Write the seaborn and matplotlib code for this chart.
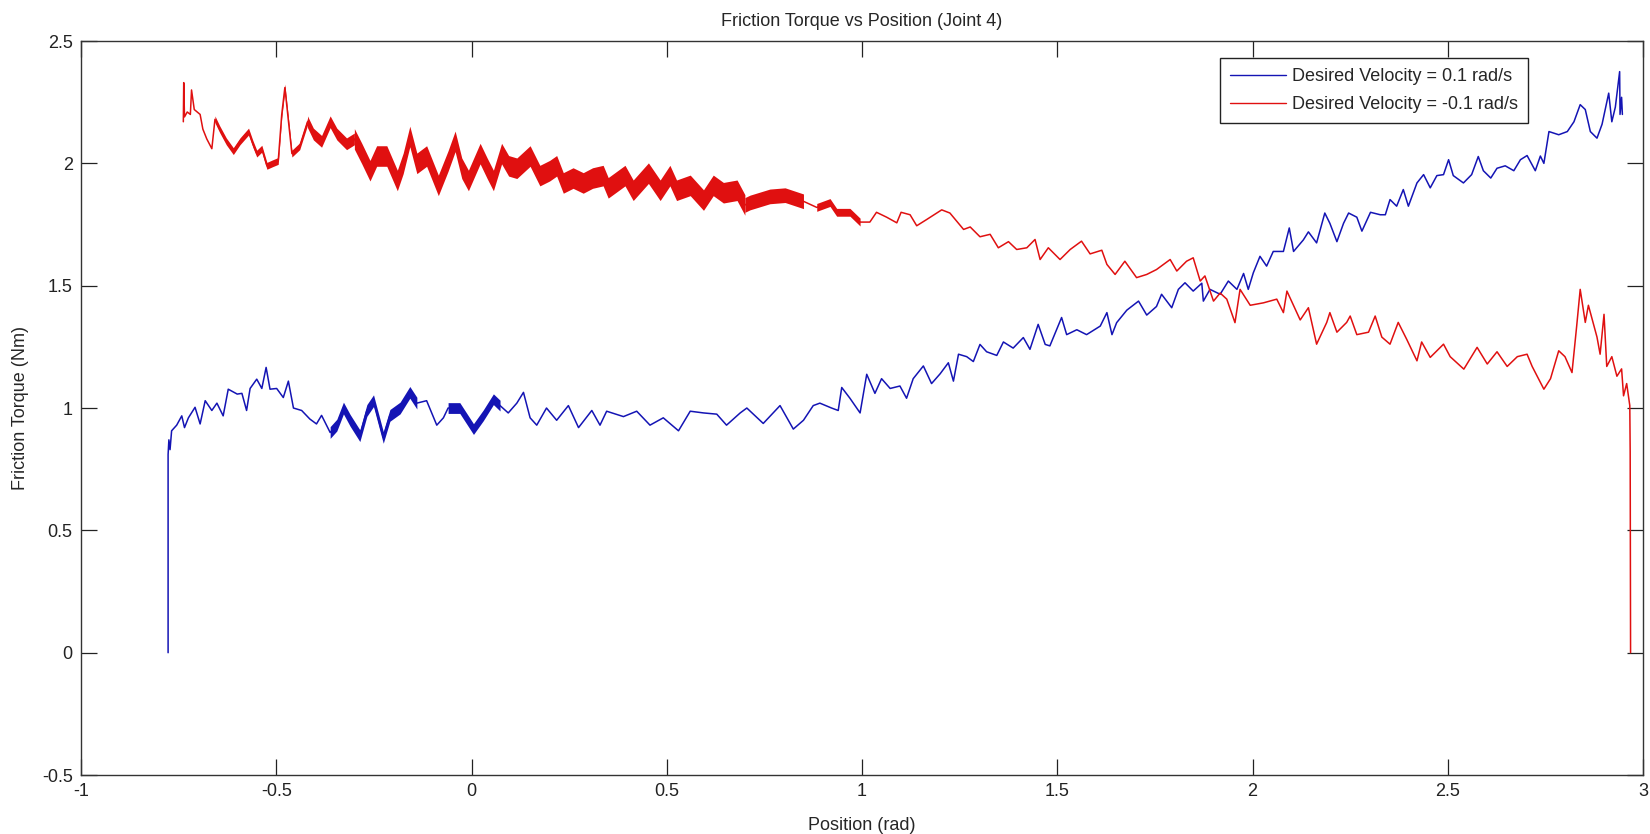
import numpy as np
import pandas as pd
import matplotlib
matplotlib.use("Agg")
import matplotlib.pyplot as plt
import seaborn as sns

# (position rad, friction torque Nm), velocity +0.1 rad/s
trace_up = [
    (-0.777, 0.0), (-0.777, 0.81), (-0.775, 0.87), (-0.772, 0.83), (-0.768, 0.907),
    (-0.755, 0.93), (-0.742, 0.968), (-0.735, 0.92), (-0.725, 0.96), (-0.708, 1.003),
    (-0.695, 0.935), (-0.682, 1.03), (-0.665, 0.99), (-0.652, 1.02), (-0.636, 0.968),
    (-0.623, 1.077), (-0.600, 1.057), (-0.588, 1.06), (-0.576, 0.99), (-0.567, 1.08),
    (-0.550, 1.118), (-0.537, 1.08), (-0.526, 1.166), (-0.516, 1.077), (-0.499, 1.08),
    (-0.482, 1.043), (-0.469, 1.11), (-0.456, 1.00), (-0.435, 0.99), (-0.414, 0.955),
    (-0.397, 0.935), (-0.384, 0.97), (-0.362, 0.90), (-0.345, 0.93), (-0.328, 1.00),
    (-0.311, 0.95), (-0.286, 0.887), (-0.268, 0.99), (-0.251, 1.03), (-0.226, 0.88),
    (-0.209, 0.97), (-0.183, 1.00), (-0.158, 1.064), (-0.140, 1.02), (-0.115, 1.03),
    (-0.089, 0.93), (-0.072, 0.96), (-0.060, 1.00), (-0.030, 1.00), (0.005, 0.914),
    (0.030, 0.97), (0.056, 1.036), (0.073, 1.01), (0.094, 0.98), (0.116, 1.02),
    (0.133, 1.064), (0.150, 0.96), (0.167, 0.93), (0.192, 1.00), (0.218, 0.95),
    (0.248, 1.01), (0.274, 0.92), (0.308, 0.99), (0.329, 0.93), (0.346, 0.987),
    (0.389, 0.965), (0.423, 0.987), (0.457, 0.93), (0.491, 0.96), (0.530, 0.907),
    (0.560, 0.987), (0.594, 0.98), (0.628, 0.975), (0.653, 0.93), (0.688, 0.98),
    (0.705, 1.00), (0.747, 0.937), (0.790, 1.01), (0.824, 0.914), (0.850, 0.95),
    (0.875, 1.01), (0.892, 1.02), (0.922, 1.00), (0.939, 0.99), (0.948, 1.084),
    (0.969, 1.04), (0.995, 0.98), (1.012, 1.138), (1.033, 1.06), (1.050, 1.12),
    (1.072, 1.08), (1.097, 1.09), (1.114, 1.04), (1.131, 1.12), (1.157, 1.172),
    (1.178, 1.10), (1.200, 1.14), (1.221, 1.185), (1.234, 1.11), (1.247, 1.22),
    (1.268, 1.21), (1.285, 1.19), (1.302, 1.26), (1.319, 1.23), (1.345, 1.215),
    (1.362, 1.27), (1.387, 1.245), (1.413, 1.288), (1.430, 1.24), (1.451, 1.342),
    (1.469, 1.26), (1.481, 1.254), (1.511, 1.37), (1.524, 1.30), (1.550, 1.32),
    (1.575, 1.30), (1.610, 1.335), (1.627, 1.39), (1.640, 1.30), (1.652, 1.349),
    (1.678, 1.40), (1.708, 1.437), (1.729, 1.38), (1.754, 1.415), (1.767, 1.465),
    (1.793, 1.41), (1.810, 1.485), (1.827, 1.512), (1.848, 1.478), (1.870, 1.51),
    (1.874, 1.437), (1.891, 1.485), (1.917, 1.465), (1.938, 1.519), (1.960, 1.485),
    (1.977, 1.55), (1.989, 1.485), (2.002, 1.553), (2.019, 1.62), (2.036, 1.58),
    (2.053, 1.64), (2.079, 1.64), (2.094, 1.736), (2.105, 1.64), (2.130, 1.687),
    (2.143, 1.72), (2.164, 1.675), (2.185, 1.797), (2.198, 1.755), (2.216, 1.68),
    (2.233, 1.755), (2.246, 1.797), (2.267, 1.78), (2.280, 1.723), (2.302, 1.80),
    (2.327, 1.79), (2.340, 1.79), (2.352, 1.852), (2.369, 1.825), (2.386, 1.893),
    (2.399, 1.825), (2.421, 1.92), (2.438, 1.954), (2.455, 1.90), (2.472, 1.95),
    (2.489, 1.954), (2.502, 2.015), (2.514, 1.95), (2.540, 1.92), (2.561, 1.954),
    (2.578, 2.028), (2.591, 1.97), (2.610, 1.94), (2.626, 1.98), (2.647, 1.99),
    (2.669, 1.97), (2.686, 2.015), (2.703, 2.032), (2.724, 1.97), (2.737, 2.03),
    (2.746, 2.00), (2.759, 2.13), (2.784, 2.117), (2.806, 2.13), (2.823, 2.17),
    (2.839, 2.24), (2.852, 2.22), (2.865, 2.13), (2.882, 2.103), (2.895, 2.16),
    (2.912, 2.287), (2.920, 2.17), (2.929, 2.23), (2.940, 2.375), (2.941, 2.20),
    (2.945, 2.27), (2.947, 2.20),
]

# velocity -0.1 rad/s
trace_down = [
    (-0.738, 2.17), (-0.737, 2.33), (-0.735, 2.19), (-0.728, 2.21), (-0.720, 2.20),
    (-0.717, 2.30), (-0.710, 2.22), (-0.695, 2.20), (-0.688, 2.14), (-0.678, 2.10),
    (-0.665, 2.06), (-0.657, 2.18), (-0.645, 2.14), (-0.628, 2.09), (-0.610, 2.05),
    (-0.593, 2.09), (-0.571, 2.13), (-0.560, 2.08), (-0.550, 2.04), (-0.537, 2.06),
    (-0.524, 1.99), (-0.510, 2.00), (-0.495, 2.01), (-0.486, 2.20), (-0.478, 2.31),
    (-0.470, 2.19), (-0.460, 2.04), (-0.440, 2.07), (-0.420, 2.17), (-0.405, 2.12),
    (-0.384, 2.09), (-0.362, 2.17), (-0.345, 2.12), (-0.320, 2.08), (-0.300, 2.10),
    (-0.281, 2.04), (-0.260, 1.97), (-0.243, 2.03), (-0.217, 2.03), (-0.190, 1.93),
    (-0.175, 2.00), (-0.158, 2.11), (-0.140, 2.00), (-0.115, 2.03), (-0.085, 1.91),
    (-0.060, 2.01), (-0.042, 2.09), (-0.025, 1.98), (-0.008, 1.93), (0.022, 2.04),
    (0.040, 1.98), (0.056, 1.93), (0.077, 2.04), (0.095, 1.99), (0.116, 1.98),
    (0.150, 2.03), (0.175, 1.95), (0.200, 1.97), (0.218, 1.99), (0.235, 1.92),
    (0.260, 1.94), (0.286, 1.92), (0.310, 1.94), (0.337, 1.95), (0.350, 1.90),
    (0.393, 1.95), (0.414, 1.89), (0.453, 1.96), (0.483, 1.89), (0.508, 1.95),
    (0.525, 1.89), (0.560, 1.91), (0.594, 1.85), (0.619, 1.91), (0.645, 1.88),
    (0.680, 1.89), (0.700, 1.83), (0.713, 1.84), (0.764, 1.865), (0.803, 1.87),
    (0.850, 1.845), (0.884, 1.82), (0.918, 1.84), (0.935, 1.80), (0.969, 1.80),
    (0.995, 1.76), (1.020, 1.76), (1.037, 1.80), (1.063, 1.78), (1.089, 1.757),
    (1.100, 1.80), (1.123, 1.79), (1.140, 1.745), (1.165, 1.77), (1.204, 1.81),
    (1.225, 1.797), (1.260, 1.73), (1.277, 1.74), (1.302, 1.70), (1.328, 1.71),
    (1.349, 1.655), (1.375, 1.68), (1.396, 1.648), (1.422, 1.655), (1.443, 1.689),
    (1.456, 1.607), (1.477, 1.655), (1.507, 1.607), (1.533, 1.648), (1.562, 1.682),
    (1.584, 1.63), (1.614, 1.645), (1.627, 1.587), (1.648, 1.546), (1.673, 1.60),
    (1.703, 1.533), (1.729, 1.546), (1.754, 1.566), (1.789, 1.607), (1.806, 1.56),
    (1.831, 1.60), (1.848, 1.614), (1.866, 1.519), (1.878, 1.54), (1.900, 1.437),
    (1.917, 1.47), (1.934, 1.445), (1.955, 1.349), (1.968, 1.485), (1.994, 1.42),
    (2.028, 1.43), (2.062, 1.445), (2.079, 1.39), (2.088, 1.478), (2.122, 1.36),
    (2.143, 1.41), (2.164, 1.261), (2.190, 1.35), (2.198, 1.39), (2.216, 1.31),
    (2.241, 1.35), (2.250, 1.376), (2.267, 1.30), (2.297, 1.31), (2.314, 1.376),
    (2.331, 1.29), (2.352, 1.261), (2.373, 1.35), (2.395, 1.28), (2.421, 1.193),
    (2.433, 1.27), (2.455, 1.207), (2.489, 1.261), (2.506, 1.21), (2.541, 1.159),
    (2.575, 1.248), (2.601, 1.18), (2.626, 1.23), (2.652, 1.17), (2.678, 1.21),
    (2.703, 1.22), (2.716, 1.17), (2.746, 1.077), (2.763, 1.12), (2.784, 1.234),
    (2.800, 1.21), (2.818, 1.145), (2.830, 1.335), (2.839, 1.485), (2.852, 1.35),
    (2.860, 1.42), (2.882, 1.29), (2.890, 1.22), (2.900, 1.383), (2.907, 1.17),
    (2.920, 1.21), (2.933, 1.13), (2.945, 1.16), (2.950, 1.05), (2.958, 1.10),
    (2.966, 1.01), (2.967, 0.82), (2.968, 0.0),
]

# stretches where the trace is a dense noisy ribbon: (from rad, to rad, half width Nm)
ribbon_up = [(-0.37, -0.12, 0.024), (-0.07, 0.08, 0.022)]
ribbon_down = [(-0.66, -0.42, 0.014), (-0.42, -0.30, 0.024),
               (-0.30, 0.70, 0.042), (0.70, 0.86, 0.030), (0.86, 1.00, 0.016)]

labels = ["Desired Velocity = 0.1 rad/s", "Desired Velocity = -0.1 rad/s"]
x_ticks = [-1, -0.5, 0, 0.5, 1, 1.5, 2, 2.5, 3]
y_ticks = [-0.5, 0, 0.5, 1, 1.5, 2, 2.5]

BLUE = "#1414b4"
RED = "#e01010"

sns.set_style("ticks")
plt.rcParams["font.family"] = ["Liberation Sans", "DejaVu Sans"]
plt.rcParams["axes.unicode_minus"] = False

fig = plt.figure(figsize=(16.5, 8.34), dpi=100)
ax = fig.add_axes([0.0491, 0.0707, 0.9467, 0.8801])


def to_frame(trace, label):
    df = pd.DataFrame(trace, columns=["pos", "torque"])
    df["run"] = label
    return df


data = pd.concat([to_frame(trace_up, labels[0]), to_frame(trace_down, labels[1])],
                 ignore_index=True)

sns.lineplot(data=data, x="pos", y="torque", hue="run", palette=[BLUE, RED],
             sort=False, estimator=None, linewidth=1.1, ax=ax)

# thicken the noisy stretches
for trace, ribbons, col in [(trace_up, ribbon_up, BLUE), (trace_down, ribbon_down, RED)]:
    xs = np.array([p[0] for p in trace])
    ys = np.array([p[1] for p in trace])
    for a, b, w in ribbons:
        m = (xs >= a) & (xs <= b)
        ax.fill_between(xs[m], ys[m] - w, ys[m] + w, color=col, linewidth=0)

ax.set_xlim(-1, 3)
ax.set_ylim(-0.5, 2.5)
ax.set_xticks(x_ticks)
ax.set_yticks(y_ticks)
ax.set_xticklabels(["%g" % t for t in x_ticks])
ax.set_yticklabels(["%g" % t for t in y_ticks])
ax.tick_params(direction="in", length=11.3, width=0.9, top=True, right=True,
               labelsize=13, pad=6, colors="#222222")
for s in ax.spines.values():
    s.set_visible(True)
    s.set_linewidth(1.0)
    s.set_color("#333333")

ax.set_title("Friction Torque vs Position (Joint 4)", fontsize=13, pad=11)
ax.set_xlabel("Position (rad)", fontsize=13, labelpad=12)
ax.set_ylabel("Friction Torque (Nm)", fontsize=13, labelpad=9)

leg = ax.legend(loc="upper right", bbox_to_anchor=(0.932, 0.989), fontsize=13,
                frameon=True, fancybox=False, shadow=False, framealpha=1,
                edgecolor="#222222", handlelength=3.15, handletextpad=0.3,
                labelspacing=0.6, borderpad=0.55)
leg.get_frame().set_linewidth(1.0)
for line in leg.get_lines():
    line.set_linewidth(1.0)

fig.savefig("out.png", dpi=100)
